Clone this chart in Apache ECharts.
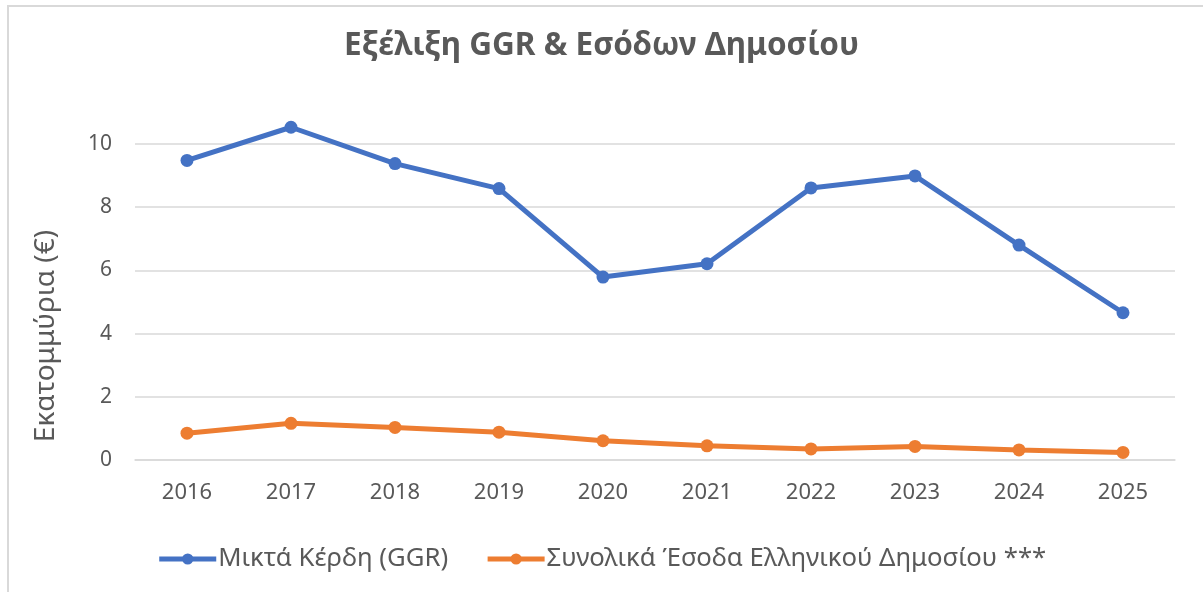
<!DOCTYPE html>
<html>
<head>
<meta charset="utf-8">
<title>Εξέλιξη GGR & Εσόδων Δημοσίου</title>
<script src="https://cdn.jsdelivr.net/npm/echarts@6/dist/echarts.min.js"></script>
<style>
  html, body { margin: 0; padding: 0; background: #fff; }
  #chart { width: 1203px; height: 592px; }
</style>
</head>
<body>
<div id="chart"></div>
<script>
// ετήσια στοιχεία (εκατ. €)
const years = ['2016', '2017', '2018', '2019', '2020', '2021', '2022', '2023', '2024', '2025'];
const ggrValues = [9.48, 10.53, 9.38, 8.59, 5.79, 6.21, 8.61, 8.99, 6.80, 4.66];
const revenueValues = [0.85, 1.16, 1.03, 0.88, 0.61, 0.45, 0.35, 0.43, 0.32, 0.24];
const yTicks = [0, 2, 4, 6, 8, 10];

const seriesNames = ['Μικτά Κέρδη (GGR)', 'Συνολικά Έσοδα Ελληνικού Δημοσίου ***'];
const colors = ['#4472C4', '#ED7D31'];

const chart = echarts.init(document.getElementById('chart'));
const textColor = '#595959';
const fontFamily = '"Noto Sans", "Open Sans", sans-serif';

const option = {
  backgroundColor: '#fff',
  animation: false,
  color: colors,
  title: {
    text: 'Εξέλιξη GGR & Εσόδων Δημοσίου',
    left: 'center',
    top: 25,
    textStyle: { color: textColor, fontSize: 31.5, fontWeight: 'bold', fontFamily: fontFamily }
  },
  grid: { left: 135, right: 28, top: 144, bottom: 132 },
  legend: {
    top: 541,
    left: 'center',
    itemWidth: 57,
    itemHeight: 14,
    itemGap: 37,
    lineStyle: { width: 5 },
    textStyle: { color: textColor, fontSize: 25.7, fontFamily: fontFamily, padding: [0, 0, 0, -3] },
    data: seriesNames
  },
  xAxis: {
    type: 'category',
    data: years,
    boundaryGap: true,
    axisLine: { lineStyle: { color: '#d9d9d9', width: 1.5 } },
    axisTick: { show: false },
    axisLabel: { color: textColor, fontSize: 22, fontFamily: fontFamily, margin: 22 }
  },
  yAxis: {
    type: 'value',
    min: yTicks[0],
    max: yTicks[yTicks.length - 1],
    interval: 2,
    axisLine: { show: false },
    axisTick: { show: false },
    axisLabel: { color: textColor, fontSize: 21, fontFamily: fontFamily, margin: 23 },
    splitLine: { lineStyle: { color: '#d9d9d9', width: 1.5 } }
  },
  graphic: [
    {
      // πλαίσιο γραφήματος (φαίνεται μόνο πάνω και αριστερά)
      type: 'rect',
      shape: { x: 8, y: 6, width: 1400, height: 800 },
      style: { fill: 'none', stroke: '#d9d9d9', lineWidth: 2 },
      silent: true
    },
    {
      type: 'text',
      x: 46,
      y: 336,
      rotation: Math.PI / 2,
      style: {
        text: 'Εκατομμύρια (€)',
        fill: textColor,
        font: '28px ' + fontFamily,
        align: 'center',
        verticalAlign: 'middle'
      }
    }
  ],
  series: seriesNames.map((name, i) => ({
    name: name,
    type: 'line',
    data: i === 0 ? ggrValues : revenueValues,
    clip: false,
    symbol: 'circle',
    symbolSize: 13,
    lineStyle: { width: 5, color: colors[i] },
    itemStyle: { color: colors[i] }
  }))
};

chart.setOption(option);
</script>
</body>
</html>
